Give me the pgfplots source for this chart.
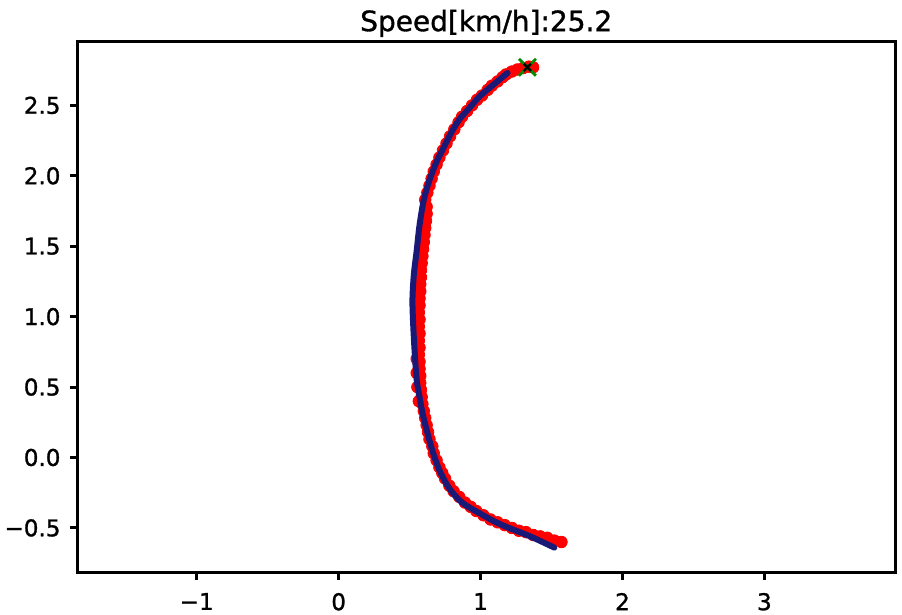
\documentclass[border=0pt]{standalone}
\usepackage{fontspec}
\setmainfont{DejaVu Sans}[FakeBold=1.2]
\usepackage{pgfplots}
\pgfplotsset{compat=1.18}

\definecolor{trajblue}{RGB}{25,25,120}
\definecolor{mkgreen}{RGB}{0,140,0}

\begin{document}
\begin{tikzpicture}
\begin{axis}[
    name=main,
    set layers,
    scale only axis,
    width=408.75pt,
    height=265.5pt,
    xmin=-1.84, xmax=3.92,
    ymin=-0.82, ymax=2.95,
    axis line style={line width=1.5pt},
    tick style={line width=1.5pt, black},
    major tick length=3.5pt,
    tick align=outside,
    xtick={-1,0,1,2,3},
    xticklabels={−1,0,1,2,3},
    ytick={-0.5,0,0.5,1,1.5,2,2.5},
    yticklabels={−0.5,0.0,0.5,1.0,1.5,2.0,2.5},
    xtick pos=bottom, ytick pos=left,
    ticklabel style={font=\fontsize{11.5}{13}\selectfont},
    xticklabel style={yshift=-3pt},
    yticklabel style={xshift=-1.5pt},
    title={Speed[km/h]:25.2},
    title style={font=\fontsize{14}{16}\selectfont, yshift=-7pt},
    clip=false,
]

% measured points
\addplot[only marks, mark=*, mark size=2.9pt, red, mark options={draw=red, fill=red}]
coordinates {
 (1.57,-0.60) (1.52,-0.59) (1.47,-0.57) (1.42,-0.56) (1.37,-0.55)
 (1.32,-0.53) (1.27,-0.52) (1.22,-0.50) (1.17,-0.48) (1.12,-0.46)
 (1.07,-0.44) (1.02,-0.41) (0.97,-0.38) (0.93,-0.35) (0.89,-0.32)
 (0.85,-0.28) (0.81,-0.24) (0.78,-0.20) (0.75,-0.15) (0.73,-0.11)
 (0.71,-0.07) (0.69,-0.02) (0.67,0.03) (0.66,0.08) (0.64,0.13)
 (0.63,0.18) (0.62,0.23) (0.61,0.28) (0.60,0.33) (0.59,0.38)
 (0.585,0.43) (0.58,0.48) (0.575,0.53) (0.575,0.58) (0.57,0.63)
 (0.57,0.68) (0.565,0.73) (0.57,0.78) (0.565,0.83) (0.57,0.88)
 (0.565,0.93) (0.57,0.98) (0.565,1.03) (0.57,1.08) (0.57,1.13)
 (0.575,1.18) (0.575,1.23) (0.58,1.28) (0.58,1.33) (0.585,1.38)
 (0.59,1.43) (0.595,1.48) (0.60,1.53) (0.605,1.58) (0.61,1.63)
 (0.615,1.68) (0.62,1.73) (0.62,1.78) (0.61,1.83) (0.625,1.88)
 (0.64,1.93) (0.655,1.98) (0.67,2.03) (0.69,2.08) (0.71,2.13)
 (0.735,2.18) (0.76,2.23) (0.785,2.28) (0.815,2.33) (0.845,2.38)
 (0.87,2.42) (0.905,2.46) (0.94,2.50) (0.975,2.54) (1.01,2.57)
 (1.05,2.61) (1.08,2.64) (1.12,2.67) (1.155,2.70) (1.18,2.72)
 (1.22,2.74) (1.26,2.755) (1.30,2.765) (1.34,2.775) (1.37,2.77)
 (0.55,0.70) (0.55,0.60) (0.555,0.50) (0.565,0.40)
};

% fitted trajectory
\addplot[on layer=axis foreground, trajblue, line width=3pt, smooth, line cap=round]
coordinates {
 (1.52,-0.64) (1.35,-0.56) (1.20,-0.50) (1.11,-0.46) (1.00,-0.40)
 (0.87,-0.32) (0.78,-0.22) (0.71,-0.09) (0.66,0.05) (0.62,0.195)
 (0.59,0.32) (0.57,0.43) (0.55,0.55) (0.535,0.76) (0.525,0.95)
 (0.52,1.12) (0.53,1.30) (0.55,1.47) (0.57,1.65) (0.60,1.83)
 (0.64,1.97) (0.69,2.10) (0.73,2.18) (0.79,2.30) (0.85,2.40)
 (0.92,2.48) (0.99,2.56) (1.07,2.63) (1.19,2.73)
};

% goal
\addplot[on layer=axis foreground, only marks, mark=x, mark size=6pt, mkgreen, mark options={line width=1.4pt}]
coordinates {(1.33,2.77)};
\addplot[on layer=axis foreground, only marks, mark=x, mark size=2.5pt, black, mark options={line width=1.2pt}]
coordinates {(1.33,2.77)};

\end{axis}
\pgfresetboundingbox
\useasboundingbox ([xshift=-38.75pt, yshift=-21pt]main.south west) rectangle ++(451pt,307.5pt);
\end{tikzpicture}
\end{document}
